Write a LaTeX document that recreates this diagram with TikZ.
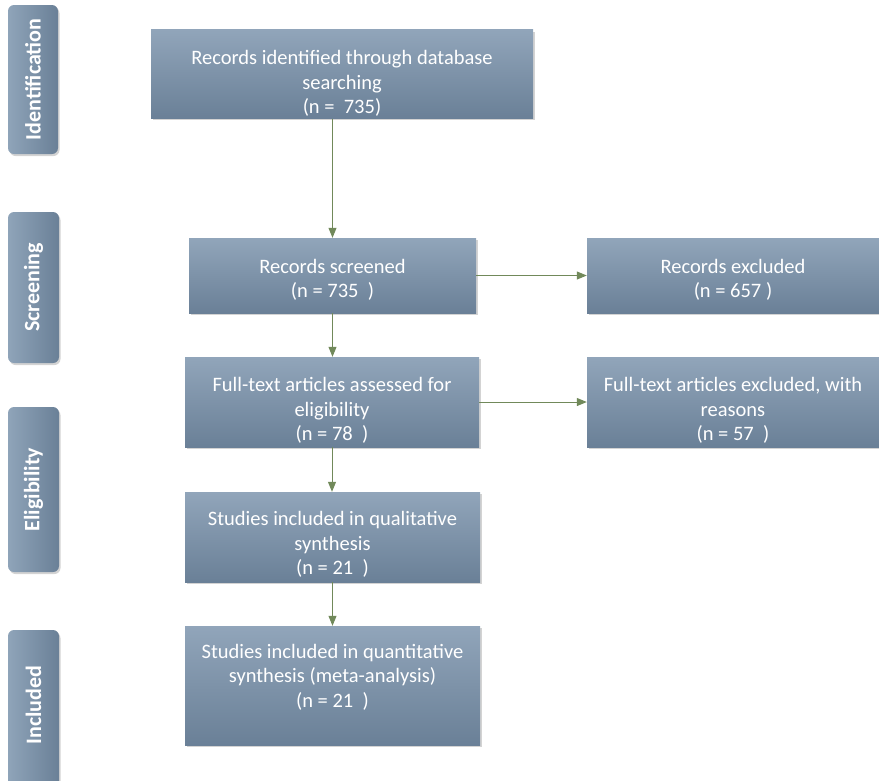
\documentclass[tikz,border=0pt]{standalone}
\usepackage{fontspec}
\setmainfont{Carlito}
\usetikzlibrary{arrows.meta,shadows}
\definecolor{boxtop}{HTML}{91A5BA}
\definecolor{boxbot}{HTML}{6A8097}
\definecolor{tabL}{HTML}{8FA4B9}
\definecolor{tabR}{HTML}{6A8097}
\definecolor{arrowc}{HTML}{71895A}
\newcommand\topgap[1]{\rule{0pt}{#1}}
\tikzset{
  flowbox/.style={rectangle, top color=boxtop, bottom color=boxbot, draw=none,
    text=white, align=center, font=\fontsize{20.5}{24.5}\selectfont, inner sep=2pt,
    drop shadow={shadow xshift=1.5pt, shadow yshift=-2pt, opacity=0.35}},
  phasetab/.style={rectangle, rounded corners=6pt, left color=tabL, right color=tabR, draw=none,
    inner sep=0pt,
    drop shadow={shadow xshift=1.5pt, shadow yshift=-2pt, opacity=0.35}},
  tablabel/.style={rotate=90, text=white, font=\fontsize{22}{24}\selectfont\bfseries, inner sep=0pt},
  flowarrow/.style={draw=arrowc, line width=1pt, -{Triangle[width=8pt,length=10pt]}, color=arrowc}
}
\begin{document}
\begin{tikzpicture}[x=1pt,y=-1pt]
\useasboundingbox (0,0) rectangle (879,780);
\clip (0,0) rectangle (879,780);
% phase tabs
\node[phasetab, minimum width=50pt, minimum height=149pt] (tid) at (33,79.5) {};
\node[tablabel] (tidt) at (tid.center) {Identification};
\node[phasetab, minimum width=51pt, minimum height=151pt] (tsc) at (33.5,287.5) {};
\node[tablabel] (tsct) at (tsc.center) {Screening};
\node[phasetab, minimum width=51pt, minimum height=165pt] (tel) at (33.5,489.5) {};
\node[tablabel] (telt) at (tel.center) {Eligibility};
\node[phasetab, minimum width=51pt, minimum height=170pt] (tin) at (33.5,715) {};
\node[tablabel] (tint) at (33.5,705) {Included};
% boxes
\node[flowbox, minimum width=382pt, minimum height=88pt] (ident) at (342,74)
  {\topgap{33pt}Records identified through database\\searching\\(n =~~735)};
\node[flowbox, minimum width=287pt, minimum height=75pt] (screen) at (332.5,275.5)
  {\topgap{23pt}Records screened\\(n = 735~~)};
\node[flowbox, minimum width=292pt, minimum height=75pt] (excl) at (733,275.5)
  {\topgap{23pt}Records excluded\\(n = 657 )};
\node[flowbox, minimum width=294pt, minimum height=90pt] (full) at (332,402)
  {\topgap{31pt}Full-text articles assessed for\\eligibility\\(n = 78~~)};
\node[flowbox, minimum width=292pt, minimum height=90pt] (fexcl) at (733,402)
  {\topgap{31pt}Full-text articles excluded, with\\reasons\\(n = 57~~)};
\node[flowbox, minimum width=295pt, minimum height=90pt] (qual) at (332.5,537)
  {\topgap{29pt}Studies included in qualitative\\synthesis\\(n = 21~~)};
\node[flowbox, minimum width=295pt, minimum height=119pt] (quant) at (332.5,685.5)
  {\topgap{15pt}Studies included in quantitative\\synthesis (meta-analysis)\\(n = 21~~)\\[-8pt]\topgap{25pt}};
% arrows
\draw[flowarrow] (ident.south -| screen.north) -- (screen.north);
\draw[flowarrow] (screen.east) -- (excl.west);
\draw[flowarrow] (screen.south) -- (screen.south |- full.north);
\draw[flowarrow] (full.east) -- (fexcl.west);
\draw[flowarrow] (full.south) -- (full.south |- qual.north);
\draw[flowarrow] (qual.south) -- (qual.south |- quant.north);
\end{tikzpicture}
\end{document}
